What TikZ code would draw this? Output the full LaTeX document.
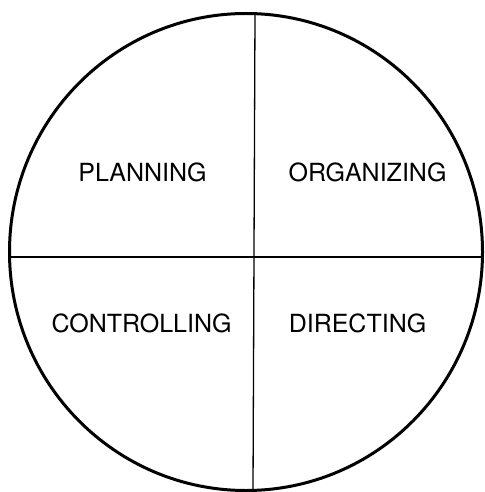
\documentclass[tikz,border=0pt]{standalone}
\usepackage{fontspec}
\setmainfont{TeX Gyre Heros}
\begin{document}
\begin{tikzpicture}[x=1pt,y=-1pt,
  rim/.style={line width=3pt},
  divider/.style={line width=1.3pt},
  label/.style={font=\fontsize{25}{29}\selectfont, inner sep=0pt, anchor=center}]
\useasboundingbox (0,0) rectangle (484,492);
% outer circle
\draw[rim] (246,252) ellipse [x radius=236.5, y radius=238.5];
% dividing lines
\coordinate (west) at (9.5,257);
\coordinate (east) at (482.5,257);
\coordinate (north) at (255,13.5);
\coordinate (south) at (253,490.5);
\draw[divider] (west) -- (east);
\draw[divider] (north) -- (south);
% quadrant labels
\node[label] (plan) at (142.5,172.5) {PLANNING};
\node[label] (org) at (367.5,172.5) {ORGANIZING};
\node[label] (ctrl) at (141.5,323) {CONTROLLING};
\node[label] (dir) at (357.5,323) {DIRECTING};
\end{tikzpicture}
\end{document}
